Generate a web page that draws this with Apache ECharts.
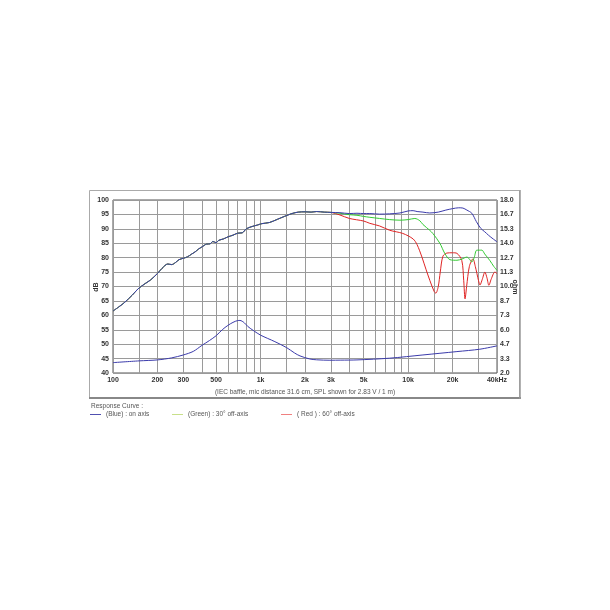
<!DOCTYPE html>
<html>
<head>
<meta charset="utf-8">
<script src="https://cdn.jsdelivr.net/npm/echarts@6/dist/echarts.min.js"></script>
<style>
html,body{margin:0;padding:0;background:#fff;}
#c{width:610px;height:610px;}
</style>
</head>
<body>
<div id="c"></div>
<script>
// ---- data ----
const xTickValues = [100, 200, 300, 500, 1000, 2000, 3000, 5000, 10000, 20000, 40000];
const xTickLabels = ['100', '200', '300', '500', '1k', '2k', '3k', '5k', '10k', '20k', '40kHz'];
const xGridValues = [100, 150, 200, 300, 400, 500, 600, 700, 800, 900, 1000, 1500, 2000, 3000, 4000, 5000, 6000, 7000, 8000, 9000, 10000, 15000, 20000, 30000, 40000];

const onAxisFreq = [100, 110, 120, 135, 148, 165, 180, 200, 215, 235, 250, 265, 280, 300, 320, 340, 360, 380, 400, 430, 455, 475, 500, 520, 560, 600, 650, 700, 750, 800, 875, 950, 1020, 1150, 1300, 1450, 1630, 1800, 2000, 2200, 2400, 2700, 3000, 3450, 4000, 4500, 5000, 5500, 6400, 7500, 8800, 10000, 10800, 11500, 12600, 14000, 16000, 18000, 20000, 22000, 23500, 25000, 27000, 29000, 31000, 33000, 35000, 37000, 40000];
const onAxisSPL = [61.5, 63, 64.5, 67, 69.2, 71, 72.3, 74.5, 76.3, 77.8, 77.6, 78.3, 79.3, 79.8, 80.3, 81.2, 82, 83, 83.7, 84.7, 84.8, 85.6, 85.2, 86, 86.5, 87.2, 87.8, 88.5, 88.6, 90, 90.8, 91.3, 91.8, 92.2, 93.3, 94.3, 95.3, 95.8, 95.9, 95.8, 96, 95.8, 95.7, 95.6, 95.3, 95.4, 95.3, 95.3, 95.1, 95.2, 95.5, 96.2, 96.3, 96, 95.8, 95.5, 95.8, 96.5, 97, 97.3, 97.2, 96.5, 95.4, 92.5, 90.2, 89, 87.8, 86.8, 85.5];

const off30Freq = [3000, 3450, 4000, 4500, 5000, 5500, 6400, 7500, 8800, 10000, 11100, 12000, 12600, 14000, 14700, 16400, 17700, 19200, 21400, 23100, 25000, 26000, 27000, 28000, 29200, 31600, 33000, 35800, 38000, 40000];
const off30SPL = [95.7, 95.4, 94.9, 94.7, 94.3, 94, 93.6, 93.2, 93, 93.2, 93.6, 92.8, 91.5, 89.5, 88.4, 85, 81.5, 79.3, 79.1, 79.5, 80.2, 79.5, 78.5, 80, 82.6, 82.6, 81.3, 79, 77, 75.6];

const off60Freq = [3000, 3450, 4000, 5000, 5500, 6400, 7500, 9200, 10800, 11500, 12400, 13200, 14050, 15000, 15400, 16000, 16500, 17200, 18300, 20000, 21400, 23100, 23800, 24300, 24900, 26000, 27500, 28500, 30000, 30660, 31800, 33100, 34200, 35250, 36500, 38700, 40000];
const off60SPL = [95.7, 94.8, 93.6, 92.7, 91.9, 91, 89.5, 88.4, 86.5, 84.5, 80.2, 76, 72, 68.3, 67.7, 70, 75, 80.5, 81.6, 81.7, 81.5, 79, 72, 65.7, 70, 77, 79.6, 77, 72, 70.5, 72.5, 75, 73, 70.4, 72.5, 75, 74.5];

const impFreq = [100, 150, 200, 250, 300, 350, 400, 450, 500, 550, 600, 650, 700, 725, 775, 820, 900, 1000, 1250, 1500, 1700, 1850, 2150, 2400, 2950, 3500, 4500, 7500, 12600, 21400, 30600, 40000];
const impOhm = [2.96, 3.12, 3.21, 3.4, 3.67, 4.0, 4.55, 5.0, 5.45, 6.0, 6.4, 6.68, 6.85, 6.86, 6.65, 6.3, 5.9, 5.5, 4.9, 4.35, 3.85, 3.58, 3.3, 3.22, 3.18, 3.19, 3.21, 3.37, 3.67, 3.98, 4.2, 4.51];

const legendNames = ['(Blue) : on axis', '(Green) : 30\u00b0 off-axis', '( Red ) : 60\u00b0 off-axis'];

function zip(a, b) { return a.map((v, i) => [v, b[i]]); }
// off-axis curves share the on-axis curve below 3 kHz
const sharedIdx = onAxisFreq.indexOf(3000);
const low = zip(onAxisFreq.slice(0, sharedIdx), onAxisSPL.slice(0, sharedIdx));

const BLUE = '#3b3bab', GREEN = '#33cc33', RED = '#e02424';
const chart = echarts.init(document.getElementById('c'), null, {renderer: 'canvas'});
const labelFont = {fontFamily: 'Liberation Sans, Arial, sans-serif', fontSize: 7, fontWeight: 'bold', color: '#333'};

chart.setOption({
  backgroundColor: '#fff',
  animation: false,
  grid: {left: 113, top: 200, width: 384, height: 173, show: true, borderColor: '#555', borderWidth: 1, backgroundColor: 'transparent'},
  xAxis: {
    type: 'log', logBase: 10, min: 100, max: 40000,
    axisLine: {show: false}, axisTick: {show: false, customValues: xGridValues},
    splitLine: {show: true, lineStyle: {color: '#9a9a9a', width: 1}},
    axisLabel: Object.assign({customValues: xTickValues, margin: 4,
      formatter: v => { const i = xTickValues.findIndex(t => Math.abs(t - v) < 1e-6 * t); return i >= 0 ? xTickLabels[i] : ''; }}, labelFont)
  },
  yAxis: [{
    type: 'value', min: 40, max: 100, interval: 5,
    axisLine: {show: false}, axisTick: {show: false},
    splitLine: {show: true, lineStyle: {color: '#9a9a9a', width: 1}},
    axisLabel: Object.assign({margin: 4}, labelFont)
  }, {
    type: 'value', min: 2, max: 18, interval: 16 / 12, position: 'right',
    axisLine: {show: false}, axisTick: {show: false}, splitLine: {show: false},
    axisLabel: Object.assign({margin: 3, formatter: v => v.toFixed(1)}, labelFont)
  }],
  legend: [
    {data: [legendNames[0]], left: 90, top: 411},
    {data: [legendNames[1]], left: 172, top: 411},
    {data: [legendNames[2]], left: 281, top: 411}
  ].map(l => Object.assign(l, {itemWidth: 11, itemHeight: 1, icon: 'rect', itemGap: 4, padding: 0,
      textStyle: {fontSize: 6.5, color: '#555', fontFamily: 'Liberation Sans, Arial, sans-serif'}})),
  series: [
    {name: 'impedance', type: 'line', yAxisIndex: 1, data: zip(impFreq, impOhm), showSymbol: false, symbol: 'none', smooth: 0.3,
     lineStyle: {color: BLUE, width: 1}, itemStyle: {color: BLUE}},
    {name: legendNames[2], type: 'line', data: low.concat(zip(off60Freq, off60SPL)), showSymbol: false, symbol: 'none', smooth: 0.3,
     lineStyle: {color: RED, width: 1}, itemStyle: {color: '#f08080'}},
    {name: legendNames[1], type: 'line', data: low.concat(zip(off30Freq, off30SPL)), showSymbol: false, symbol: 'none', smooth: 0.3,
     lineStyle: {color: GREEN, width: 1}, itemStyle: {color: '#c8e08a'}},
    {name: legendNames[0], type: 'line', data: zip(onAxisFreq, onAxisSPL), showSymbol: false, symbol: 'none', smooth: 0.3,
     lineStyle: {color: BLUE, width: 1}, itemStyle: {color: '#5050b0'}}
  ],
  graphic: [
    {type: 'rect', shape: {x: 89.5, y: 190.5, width: 430, height: 207}, style: {fill: 'none', stroke: '#aaa', lineWidth: 1}, silent: true},
    {type: 'line', shape: {x1: 89, y1: 398, x2: 521, y2: 398}, style: {stroke: '#888', lineWidth: 2}, silent: true},
    {type: 'line', shape: {x1: 520, y1: 190, x2: 520, y2: 399}, style: {stroke: '#999', lineWidth: 1.5}, silent: true},
    {type: 'text', x: 96, y: 287, rotation: Math.PI / 2, style: {text: 'dB', font: 'bold 7px Liberation Sans, Arial, sans-serif', fill: '#333', align: 'center', verticalAlign: 'middle'}},
    {type: 'text', x: 515, y: 287, rotation: -Math.PI / 2, style: {text: 'ohm', font: 'bold 7px Liberation Sans, Arial, sans-serif', fill: '#333', align: 'center', verticalAlign: 'middle'}},
    {type: 'text', x: 305, y: 392, style: {text: '(IEC baffle, mic distance 31.6 cm, SPL shown for 2.83 V / 1 m)', font: '6.5px Liberation Sans, Arial, sans-serif', fill: '#555', align: 'center', verticalAlign: 'middle'}},
    {type: 'text', x: 91, y: 406, style: {text: 'Response Curve :', font: '6.5px Liberation Sans, Arial, sans-serif', fill: '#555', align: 'left', verticalAlign: 'middle'}}
  ]
});
</script>
</body>
</html>
